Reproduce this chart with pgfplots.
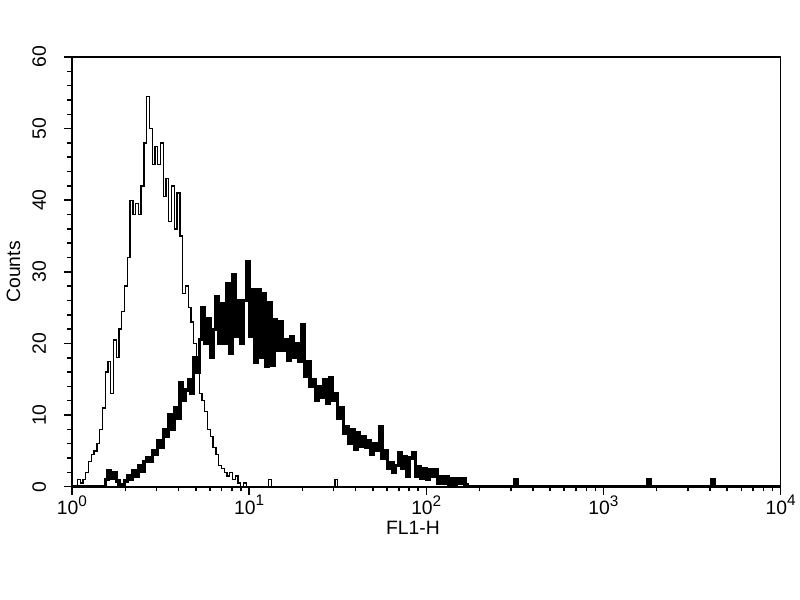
\documentclass[border=0pt]{standalone}
\usepackage{fontspec}
\setmainfont{Liberation Sans}
\usepackage{pgfplots}
\pgfplotsset{compat=1.18}
\usepackage{pgfplotstable}

% channel (1/64 decade) vs counts
\pgfplotstableread{
ch v
0 0
1 0
2 1
3 0.5
4 1
5 2
6 3.5
7 4.5
8 5
9 6
10 8
11 11
12 16
13 17.5
14 13
15 20.5
16 18
17 22
18 24.5
19 28
20 32
21 40
22 38
23 39.5
24 38
25 42
26 48
27 54.5
28 50
29 45
30 47.5
31 45
32 48
33 40.5
34 43
35 37
36 42
37 36
38 41
39 35
40 27
41 28
42 25
43 23
44 20
45 17
46 13
47 12
48 10.5
49 8
50 7
51 5.5
52 4.5
53 3
54 2.5
55 2
56 1.5
57 2
58 1
59 1.5
60 0.5
61 0
62 0.5
63 0
71 1
72 0
95 1
96 0
256 0
}\ctrl

\pgfplotstableread{
ch v
0 0
12 1
13 2.2
14 1.2
15 2
16 0.8
17 0.3
18 0
19 0.8
20 1.5
21 1
22 2.2
23 1.5
24 3
25 2.2
26 3.5
27 4
28 3.5
29 5
30 4.5
31 6.5
32 5.5
33 8
34 7
35 10
36 8
37 11
38 9.5
39 14.5
40 12
41 13.5
42 15
43 13
44 18
45 16
46 20.5
47 25
48 20
49 23.5
50 18
51 22
52 26.5
53 20
54 25.5
55 20
56 28.4
57 18.6
58 29.6
59 21
60 26
61 20
62 26
63 31.4
64 21
65 27.5
66 17.3
67 27.5
68 18
69 27
70 16.8
71 25.7
72 17
73 23.3
74 19
75 23
76 19
77 20.5
78 17.7
79 21
80 18
81 20
82 17.5
83 22.6
84 15.4
85 17.5
86 14
87 15
88 12
89 14
90 12.5
91 15
92 11.7
93 15.2
94 12
95 13
96 9.5
97 11
98 7.5
99 8.4
100 6
101 8
102 5.2
103 7.5
104 5.6
105 7
106 5.5
107 6.5
108 4.5
109 6
110 5
111 8.4
112 4
113 5
114 2.5
115 3.3
116 2
117 3
118 4.7
119 2.5
120 4.2
121 1.5
122 4
123 4.7
124 1.5
125 2.8
126 1.2
127 2.5
128 1
129 2.4
130 1.5
131 2.4
132 0.5
133 1.4
134 0.5
135 1.4
136 0.3
137 1.2
138 0.3
139 1.2
140 0.5
141 1.2
142 0.3
143 0
160 1
161 0
208 1
209 0
231 1
232 0
256 0
}\samp

\newcommand{\dec}[1]{10\raisebox{0.85ex}{\fontsize{11.5}{11.5}\selectfont #1}}

\begin{document}
\begin{tikzpicture}
\begin{axis}[
  scale only axis,
  width=531.75pt, height=322.5pt,
  xmode=log, xmin=1, xmax=10000, ymin=0, ymax=60,
  xtick={1,10,100,1000,10000},
  xticklabels={\dec{0},\dec{1},\dec{2},\dec{3},\dec{4}},
  minor xtick={2,3,4,5,6,7,8,9,20,30,40,50,60,70,80,90,200,300,400,500,600,700,800,900,2000,3000,4000,5000,6000,7000,8000,9000},
  ytick={0,10,20,30,40,50,60},
  minor y tick num=4,
  tick align=outside,
  xtick pos=bottom, ytick pos=left,
  major tick length=6pt, minor tick length=3.5pt,
  every tick/.style={black, line width=1.1pt},
  axis line style={line width=1.4pt},
  font=\fontsize{14.5}{16}\selectfont,
  /pgf/number format/assume math mode=true,
  yticklabel style={rotate=90, anchor=south, yshift=10pt},
  xticklabel style={yshift=3pt},
  xlabel={FL1-H},
  ylabel={Counts},
  xlabel style={yshift=2pt, xshift=-10pt},
  ylabel style={yshift=2pt},
]
\addplot[const plot mark left, black, line width=1pt] table[x expr={10^(\thisrow{ch}/64)}, y=v] {\ctrl};
\addplot[const plot mark left, black, line width=2.4pt] table[x expr={10^(\thisrow{ch}/64)}, y=v] {\samp};
\end{axis}
\path ([shift={(-54pt,-84.75pt)}]current axis.south west) rectangle ([shift={(14.25pt,42.75pt)}]current axis.north east);
\end{tikzpicture}
\end{document}
